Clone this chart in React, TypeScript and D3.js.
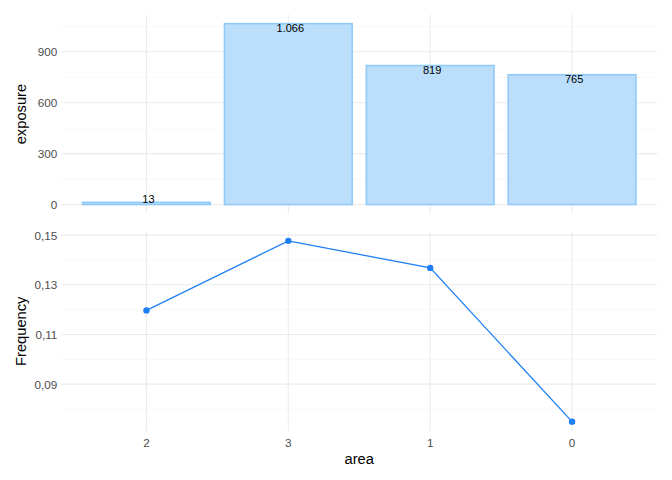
import React from "react";
import * as d3 from "d3";

const areas = ["2", "3", "1", "0"];
const exposure = [13, 1066, 819, 765];
const exposureLabels = ["13", "1.066", "819", "765"];
const frequency = [0.1197, 0.1477, 0.1368, 0.0749];
const exposureTicks = [0, 300, 600, 900];
const exposureMinor = [150, 450, 750, 1050];
const freqTicks = [0.09, 0.11, 0.13, 0.15];
const freqMinor = [0.08, 0.1, 0.12, 0.14];

const W = 672;
const H = 480;
const FONT = "Liberation Sans, Arial, Helvetica, sans-serif";

export default function App() {
  const left = 61.3;
  const right = 657.2;
  const x = d3.scalePoint<string>().domain(areas).range([left, right]).padding(0.6);
  const step = x.step();
  const barW = step * 0.9;

  const eMax = d3.max(exposure) as number;
  const ePad = eMax * 0.05;
  const yTopPanel = [14.6, 213.6];
  const yE = d3.scaleLinear().domain([-ePad, eMax + ePad]).range([yTopPanel[1], yTopPanel[0]]);

  const fMin = d3.min(frequency) as number;
  const fMax = d3.max(frequency) as number;
  const fPad = (fMax - fMin) * 0.05;
  const yBotPanel = [231.8, 430.7];
  const yF = d3.scaleLinear().domain([fMin - fPad, fMax + fPad]).range([yBotPanel[1], yBotPanel[0]]);

  const line = d3
    .line<number>()
    .x((_, i) => x(areas[i]) as number)
    .y((d) => yF(d));

  const major = "#EBEBEB";
  const minor = "#F2F2F2";
  const tickColor = "#4D4D4D";

  return (
    <svg width={W} height={H} style={{ display: "block", position: "absolute", left: 0, top: 0 }}>
      <rect width={W} height={H} fill="#fff" />
      {/* top panel grid */}
      {exposureMinor.map((v) => (
        <line key={"em" + v} x1={left} x2={right} y1={yE(v)} y2={yE(v)} stroke={minor} strokeWidth={0.55} />
      ))}
      {exposureTicks.map((v) => (
        <line key={"eM" + v} x1={left} x2={right} y1={yE(v)} y2={yE(v)} stroke={major} strokeWidth={1.07} />
      ))}
      {areas.map((a) => (
        <line key={"evx" + a} x1={x(a)} x2={x(a)} y1={yTopPanel[0]} y2={yTopPanel[1]} stroke={major} strokeWidth={1.07} />
      ))}
      {/* bars */}
      {areas.map((a, i) => (
        <rect
          key={"bar" + a}
          x={(x(a) as number) - barW / 2}
          y={yE(exposure[i])}
          width={barW}
          height={yE(0) - yE(exposure[i])}
          fill="#BBDEFB"
          stroke="#90CAF9"
          strokeWidth={1.6}
        />
      ))}
      {areas.map((a, i) => (
        <text
          key={"lab" + a}
          x={(x(a) as number) + 2}
          y={Math.min(yE(exposure[i]) + 4.7, yE(0) - 5.5)}
          fontFamily={FONT}
          fontSize={11}
          fill="#000"
          textAnchor="middle"
          dominantBaseline="central"
        >
          {exposureLabels[i]}
        </text>
      ))}
      {exposureTicks.map((v) => (
        <text
          key={"et" + v}
          x={left - 4}
          y={yE(v)}
          fontFamily={FONT}
          fontSize={11.7}
          fill={tickColor}
          textAnchor="end"
          dominantBaseline="central"
        >
          {d3.format("d")(v)}
        </text>
      ))}
      <text
        transform={`translate(21,${(yTopPanel[0] + yTopPanel[1]) / 2}) rotate(-90)`}
        fontFamily={FONT}
        fontSize={14.7}
        fill="#000"
        textAnchor="middle"
        dominantBaseline="central"
      >
        exposure
      </text>

      {/* bottom panel grid */}
      {freqMinor.map((v) => (
        <line key={"fm" + v} x1={left} x2={right} y1={yF(v)} y2={yF(v)} stroke={minor} strokeWidth={0.55} />
      ))}
      {freqTicks.map((v) => (
        <line key={"fM" + v} x1={left} x2={right} y1={yF(v)} y2={yF(v)} stroke={major} strokeWidth={1.07} />
      ))}
      {areas.map((a) => (
        <line key={"fvx" + a} x1={x(a)} x2={x(a)} y1={yBotPanel[0]} y2={yBotPanel[1]} stroke={major} strokeWidth={1.07} />
      ))}
      <path d={line(frequency) || ""} fill="none" stroke="#1E7FF5" strokeWidth={1.3} />
      {areas.map((a, i) => (
        <circle key={"pt" + a} cx={x(a)} cy={yF(frequency[i])} r={3.2} fill="#1E7FF5" />
      ))}
      {freqTicks.map((v) => (
        <text
          key={"ft" + v}
          x={left - 4}
          y={yF(v)}
          fontFamily={FONT}
          fontSize={11.7}
          fill={tickColor}
          textAnchor="end"
          dominantBaseline="central"
        >
          {v.toFixed(2).replace(".", ",")}
        </text>
      ))}
      <text
        transform={`translate(20.5,${(yBotPanel[0] + yBotPanel[1]) / 2}) rotate(-90)`}
        fontFamily={FONT}
        fontSize={14.7}
        fill="#000"
        textAnchor="middle"
        dominantBaseline="central"
      >
        Frequency
      </text>
      {areas.map((a) => (
        <text
          key={"xt" + a}
          x={x(a)}
          y={442.3}
          fontFamily={FONT}
          fontSize={11.7}
          fill={tickColor}
          textAnchor="middle"
          dominantBaseline="central"
        >
          {a}
        </text>
      ))}
      <text
        x={(left + right) / 2}
        y={458.5}
        fontFamily={FONT}
        fontSize={14.7}
        fill="#000"
        textAnchor="middle"
        dominantBaseline="central"
      >
        area
      </text>
    </svg>
  );
}
